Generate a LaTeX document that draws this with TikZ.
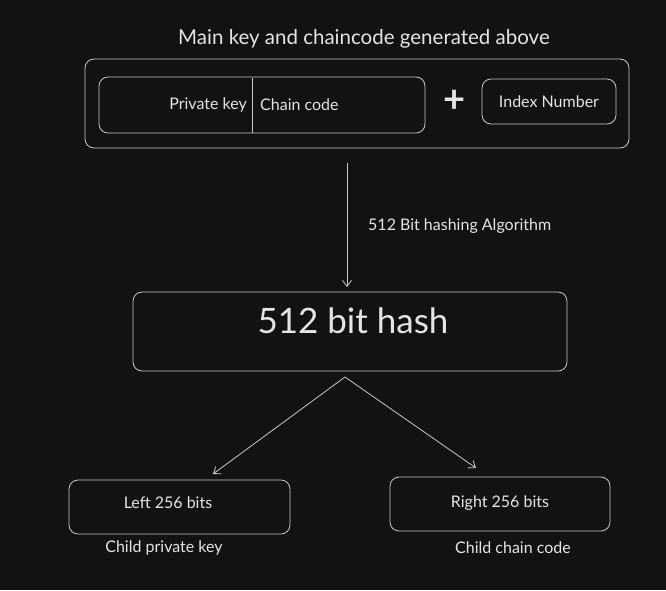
\documentclass[tikz,border=0pt]{standalone}
\usepackage{fontspec}
\setmainfont{Lato}
\usetikzlibrary{arrows.meta,calc}
\definecolor{bg}{HTML}{121212}
\definecolor{stroke}{HTML}{C8C8C8}
\definecolor{txt}{HTML}{E4E4E4}
\begin{document}
\begin{tikzpicture}[x=1pt,y=-1pt,
  box/.style={draw=stroke,line width=0.8pt,rounded corners=9pt,inner sep=0pt},
  lbl/.style={text=txt,inner sep=0pt,font=\fontsize{16}{18}\selectfont},
  conn/.style={draw=stroke,line width=0.8pt,-{Straight Barb[length=6pt,width=9pt]}}]
\fill[bg] (0,0) rectangle (666,590);
\useasboundingbox (0,0) rectangle (666,590);
% top group
\node[lbl,font=\fontsize{20.5}{22}\selectfont] (title) at (364,39) {Main key and chaincode generated above};
\node[box,minimum width=544pt,minimum height=89pt] (outer) at (357,103.5) {};
\node[box,minimum width=326pt,minimum height=56pt] (inner) at (262,105) {};
\coordinate (divtop) at (252.5,78);
\coordinate (divbot) at (252.5,133);
\draw[draw=stroke,line width=1pt] (divtop) -- (divbot);
\node[lbl,anchor=east] (pk) at (247,105) {Private key};
\node[lbl,anchor=west] (cc) at (260,105) {Chain code};
\node[text=txt,inner sep=0pt,font=\fontsize{38}{40}\selectfont\bfseries] (plus) at (454.5,101) {+};
\node[box,minimum width=134pt,minimum height=45pt] (index) at (549,101.5) {};
\node[lbl] (indext) at (549,102) {Index Number};
% hash
\coordinate (arrtop) at (347,163);
\coordinate (arrbot) at (347,287);
\draw[conn] (arrtop) -- (arrbot);
\node[lbl,anchor=west] (alg) at (368,226) {512 Bit hashing Algorithm};
\node[box,minimum width=434pt,minimum height=79pt] (hash) at (350,331.5) {};
\node[lbl,font=\fontsize{35}{38}\selectfont] (hasht) at (353,321) {512 bit hash};
% children
\coordinate (split) at (345,377);
\coordinate (lt) at (213,474);
\coordinate (rt) at (476,468);
\draw[conn] (split) -- (lt);
\draw[conn] (split) -- (rt);
\node[box,minimum width=221pt,minimum height=54pt] (left) at (179.5,507) {};
\node[lbl] (leftt) at (168,503) {Left 256 bits};
\node[box,minimum width=220pt,minimum height=54pt] (right) at (500,504) {};
\node[lbl] (rightt) at (500,503) {Right 256 bits};
\node[lbl] (cpk) at (164,548) {Child private key};
\node[lbl] (ccc) at (513,548) {Child chain code};
\end{tikzpicture}
\end{document}
